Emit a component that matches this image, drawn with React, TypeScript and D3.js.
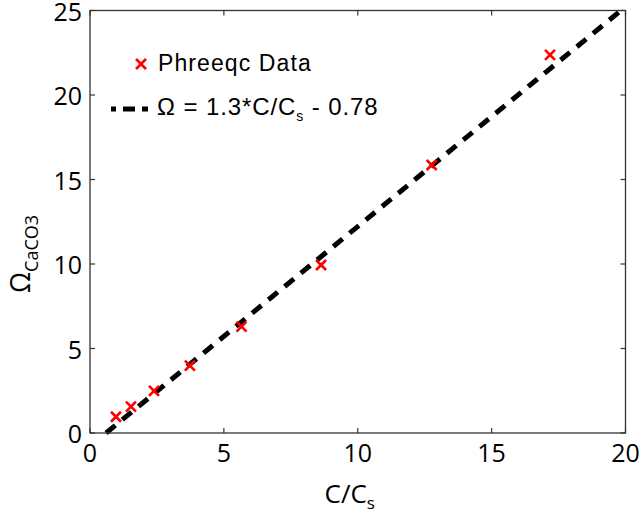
import React from "react";
import * as d3 from "d3";

const ratioValues = [0.97, 1.53, 2.39, 3.73, 5.66, 8.63, 12.76, 17.18];
const omegaValues = [0.96, 1.56, 2.49, 3.99, 6.29, 9.94, 15.86, 22.37];
const xTicks = [0, 5, 10, 15, 20];
const yTicks = [0, 5, 10, 15, 20, 25];
const fitSlope = 1.3;
const fitIntercept = -0.78;
const fitRange = [0.6, 19.8];

export default function App() {
  const W = 641, H = 521;
  const left = 90, right = 625.5, top = 10.5, bottom = 433;
  const x = d3.scaleLinear().domain([0, 20]).range([left, right]);
  const y = d3.scaleLinear().domain([0, 25]).range([bottom, top]);
  const fitPts = fitRange.map((v) => [v, fitSlope * v + fitIntercept] as [number, number]);
  const line = d3.line<[number, number]>().x((d) => x(d[0])).y((d) => y(d[1]));
  const tickLen = 5;
  const font = "'Open Sans', 'DejaVu Sans', sans-serif";
  const legFont = "'Liberation Sans', Arial, sans-serif";
  const cross = (cx: number, cy: number, s: number, k: string) => (
    <g key={k} stroke="#ff0000" strokeWidth={2.6}>
      <line x1={cx - s} y1={cy - s} x2={cx + s} y2={cy + s} />
      <line x1={cx - s} y1={cy + s} x2={cx + s} y2={cy - s} />
    </g>
  );
  return (
    <svg width={W} height={H} style={{ position: "absolute", left: 0, top: 0, background: "#fff" }}>
      <rect x={0} y={0} width={W} height={H} fill="#fff" />
      <path d={line(fitPts) || ""} fill="none" stroke="#000" strokeWidth={5} strokeDasharray="12,9" />
      {ratioValues.map((v, i) => cross(x(v), y(omegaValues[i]), 5, "p" + i))}
      <rect x={left} y={top} width={right - left} height={bottom - top} fill="none" stroke="#333" strokeWidth={1.3} />
      {xTicks.map((t) => (
        <g key={"xt" + t}>
          <line x1={x(t)} x2={x(t)} y1={bottom} y2={bottom - tickLen} stroke="#333" strokeWidth={1.2} />
          <line x1={x(t)} x2={x(t)} y1={top} y2={top + tickLen} stroke="#333" strokeWidth={1.2} />
          <text x={x(t)} y={bottom + 29} textAnchor="middle" fontFamily={font} fontSize={25} fill="#000">{t}</text>
        </g>
      ))}
      {yTicks.map((t) => (
        <g key={"yt" + t}>
          <line x1={left} x2={left + tickLen} y1={y(t)} y2={y(t)} stroke="#333" strokeWidth={1.2} />
          <line x1={right} x2={right - tickLen} y1={y(t)} y2={y(t)} stroke="#333" strokeWidth={1.2} />
          <text x={left - 8} y={y(t) + 10} textAnchor="end" fontFamily={font} fontSize={25} fill="#000">{t}</text>
        </g>
      ))}
      <text x={x(10) - 8} y={503} textAnchor="middle" fontFamily={font} fontSize={26} fill="#000">
        C/C<tspan fontSize={17} dy={6}>s</tspan>
      </text>
      <text transform={`translate(30,254) rotate(-90)`} textAnchor="middle" fontFamily={font} fontSize={27} fill="#000">
        Ω<tspan fontSize={18} dy={8}>CaCO3</tspan>
      </text>
      {cross(141, 64, 5, "leg")}
      <text x={158} y={71} fontFamily={legFont} fontSize={23} letterSpacing={1.1} fill="#000">Phreeqc Data</text>
      <line x1={111} x2={148} y1={109} y2={109} stroke="#000" strokeWidth={5} strokeDasharray="5,7,12,7,6,100" />
      <text x={157} y={115} fontFamily={legFont} fontSize={24} letterSpacing={0.9} fill="#000">
        Ω = 1.3*C/C<tspan fontSize={14} dy={6}>s</tspan><tspan dy={-6}> - 0.78</tspan>
      </text>
    </svg>
  );
}
